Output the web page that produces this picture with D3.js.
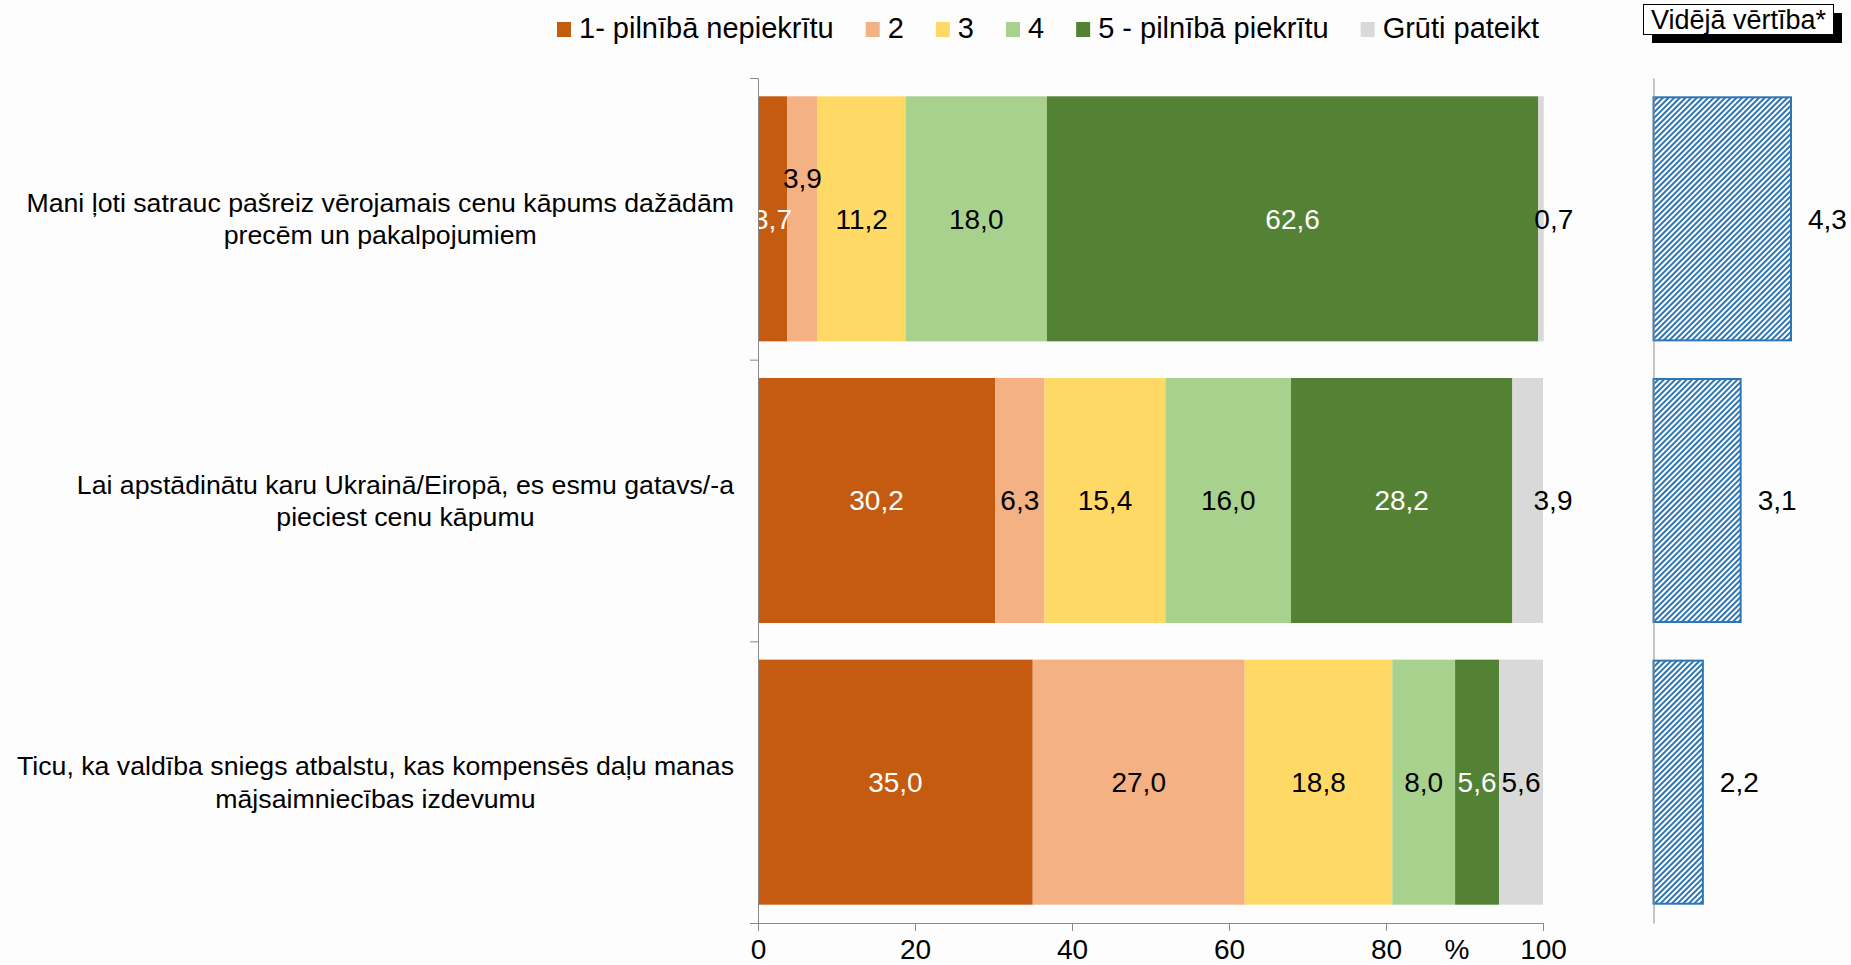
<!DOCTYPE html>
<html>
<head>
<meta charset="utf-8">
<script src="https://cdn.jsdelivr.net/npm/d3@7"></script>
<style>
  body { margin: 0; background: #fdfdfd; }
  svg { display: block; font-family: "Liberation Sans", Arial, sans-serif; }
</style>
</head>
<body>
<div class="grafico"></div>
<script>
/*Datos*/
const categories = [
  'Mani ļoti satrauc pašreiz vērojamais cenu kāpums dažādām\nprecēm un pakalpojumiem',
  'Lai apstādinātu karu Ukrainā/Eiropā, es esmu gatavs/-a\npieciest cenu kāpumu',
  'Ticu, ka valdība sniegs atbalstu, kas kompensēs daļu manas\nmājsaimniecības izdevumu'
];
const keys = ['1- pilnībā nepiekrītu', '2', '3', '4', '5 - pilnībā piekrītu', 'Grūti pateikt'];
const s1 = [3.7, 30.2, 35.0];
const s2 = [3.9, 6.3, 27.0];
const s3 = [11.2, 15.4, 18.8];
const s4 = [18.0, 16.0, 8.0];
const s5 = [62.6, 28.2, 5.6];
const sGrutiPateikt = [0.7, 3.9, 5.6];
const means = [4.3, 3.1, 2.2];
const xTicks = [0, 20, 40, 60, 80, 100];
const meanTitle = 'Vidējā vērtība*';

const colors = ['#c55a11', '#f4b183', '#ffd966', '#a9d18e', '#548235', '#d9d9d9'];
const labelColors = ['#fff', '#000', '#000', '#000', '#fff', '#000'];
const blue = '#2e75b6';
const axisColor = '#898989';

const w = 1851;
const h = 965;
const fs = 28;

const series = [s1, s2, s3, s4, s5, sGrutiPateikt];
const rows = categories.map((c, i) => {
  const r = { cat: i };
  keys.forEach((k, j) => r[k] = series[j][i]);
  return r;
});
const stacked = d3.stack().keys(keys)(rows);

const lv = d3.formatLocale({ decimal: ',', thousands: ' ', grouping: [3], currency: ['', ''] });
const f1 = lv.format('.1f');

/*Escalas*/
const xScale = d3.scaleLinear().domain([0, 100]).range([758, 1543]);
const yScale = d3.scaleBand().domain(d3.range(categories.length))
  .range([78, 923]).paddingInner(0.13).paddingOuter(0.065);
const yEdges = d3.scaleLinear().domain([0, categories.length]).range([78, 923]);
const mScale = d3.scaleLinear().domain([1, 5]).range([1653.5, 1821.4]);

const svg = d3.select('.grafico').append('svg')
  .attr('width', w).attr('height', h);

/*Patrón rayado*/
const pat = svg.append('defs').append('pattern')
  .attr('id', 'hatch').attr('patternUnits', 'userSpaceOnUse')
  .attr('width', 4).attr('height', 4)
  .attr('patternTransform', 'rotate(45)');
pat.append('rect').attr('width', 4).attr('height', 4).attr('fill', '#fff');
pat.append('rect').attr('width', 2).attr('height', 4).attr('fill', blue);

/*Barras apiladas*/
const layer = svg.selectAll('g.layer').data(stacked).enter().append('g')
  .attr('class', 'layer')
  .attr('fill', (d, i) => colors[i]);
layer.selectAll('rect').data(d => d).enter().append('rect')
  .attr('x', d => xScale(d[0]))
  .attr('y', (d, i) => yScale(i))
  .attr('width', d => xScale(d[1]) - xScale(d[0]))
  .attr('height', yScale.bandwidth());

/*Etiquetas de datos*/
const minW = 36;
stacked.forEach((s, k) => {
  s.forEach((d, i) => {
    const segW = xScale(d[1]) - xScale(d[0]);
    let cx = (xScale(d[0]) + xScale(d[1])) / 2;
    let cy = yScale(i) + yScale.bandwidth() / 2;
    const prev = k > 0 ? stacked[k - 1][i] : null;
    if (segW < minW && prev && xScale(prev[1]) - xScale(prev[0]) < minW) cy -= 41;
    if (segW < minW && k === keys.length - 1) cx = xScale(d[1]) + 10;
    svg.append('text')
      .attr('x', cx).attr('y', cy).attr('dy', '0.35em')
      .attr('text-anchor', 'middle')
      .attr('font-size', fs)
      .attr('fill', labelColors[k])
      .text(f1(d.data[keys[k]]));
  });
});

/*Ejes*/
const xAxis = d3.axisBottom(xScale).tickValues(xTicks).tickSize(8).tickSizeOuter(0).tickPadding(8);
const gx = svg.append('g').attr('transform', 'translate(0,923)').call(xAxis);
gx.attr('font-size', fs).attr('font-family', null);
gx.selectAll('line').attr('stroke', axisColor);
gx.select('.domain').attr('stroke', axisColor).attr('d', 'M750,0.5H1543');
gx.selectAll('text').attr('fill', '#000');

svg.append('text')
  .attr('x', 1457).attr('y', 923 + 16).attr('dy', '0.71em')
  .attr('text-anchor', 'middle').attr('font-size', fs)
  .text('%');

const yAxis = d3.axisLeft(yEdges).tickValues(d3.range(categories.length + 1)).tickSize(8).tickSizeOuter(0).tickFormat('');
const gy = svg.append('g').attr('transform', 'translate(758,0)').call(yAxis);
gy.selectAll('line').attr('stroke', axisColor);
gy.select('.domain').attr('stroke', axisColor);

/*Textos de categorías*/
const cfs = 26.7;
categories.forEach((c, i) => {
  const lines = c.split('\n');
  const lh = cfs * 1.2;
  const cy = yScale(i) + yScale.bandwidth() / 2;
  const t = svg.append('text')
    .attr('font-size', cfs)
    .attr('text-anchor', 'middle');
  lines.forEach((l, j) => {
    t.append('tspan')
      .attr('y', cy + (j - (lines.length - 1) / 2) * lh)
      .attr('dy', '0.35em')
      .text(l);
  });
  const maxW = d3.max(t.selectAll('tspan').nodes(), n => n.getComputedTextLength());
  t.selectAll('tspan').attr('x', 734 - maxW / 2);
});

/*Leyenda*/
let lx = 557;
keys.forEach((k, i) => {
  svg.append('rect').attr('x', lx).attr('y', 22).attr('width', 14).attr('height', 15).attr('fill', colors[i]);
  const t = svg.append('text').attr('x', lx + 22).attr('y', 38).attr('font-size', 29).text(k);
  lx += 22 + t.node().getComputedTextLength() + 32;
});

/*Valor medio*/
svg.append('rect').attr('x', 1652).attr('y', 13).attr('width', 190).attr('height', 30).attr('fill', '#000');
svg.append('rect').attr('x', 1643.5).attr('y', 4.5).attr('width', 190).attr('height', 30)
  .attr('fill', '#fff').attr('stroke', '#000');
svg.append('text').attr('x', 1738.5).attr('y', 29).attr('text-anchor', 'middle')
  .attr('font-size', 27).text(meanTitle);

svg.selectAll('rect.mean').data(means).enter().append('rect')
  .attr('class', 'mean')
  .attr('x', mScale(1))
  .attr('y', (d, i) => yScale(i) + 1)
  .attr('width', d => mScale(d) - mScale(1) - 1)
  .attr('height', yScale.bandwidth() - 2)
  .attr('fill', 'url(#hatch)')
  .attr('stroke', blue).attr('stroke-width', 2);

svg.selectAll('text.mean').data(means).enter().append('text')
  .attr('class', 'mean')
  .attr('x', d => mScale(d) + 16)
  .attr('y', (d, i) => yScale(i) + yScale.bandwidth() / 2)
  .attr('dy', '0.35em').attr('font-size', fs)
  .text(d => f1(d));

const gm = svg.append('g').attr('transform', `translate(${mScale(1)},0)`)
  .call(d3.axisLeft(yEdges).tickValues([]).tickSize(0).tickSizeOuter(0));
gm.select('.domain').attr('stroke', axisColor);
</script>
</body>
</html>
